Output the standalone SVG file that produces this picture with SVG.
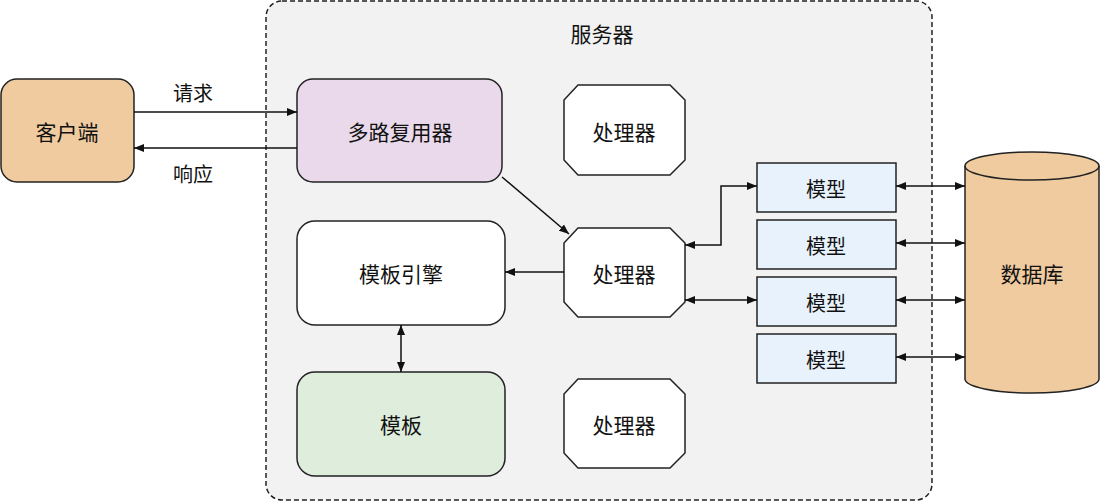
<svg xmlns="http://www.w3.org/2000/svg" width="1101" height="503" viewBox="0 0 1101 503">
<defs>
<marker id="ah" viewBox="0 0 10 8" refX="10" refY="4" markerWidth="10" markerHeight="8" orient="auto-start-reverse" markerUnits="userSpaceOnUse">
<path d="M0,0 L10,4 L0,8 Z" fill="#111"/>
</marker>
<style>
.t{font-family:"Noto Sans CJK SC","Noto Sans",sans-serif;font-size:21px;fill:#111;text-anchor:middle;dominant-baseline:central}
.s{font-size:20px}
.n{stroke:#222;stroke-width:1.5}
.c{fill:none;stroke:#111;stroke-width:1.5}
</style>
</defs>
<g id="server">
<rect x="266" y="1" width="666" height="499" rx="16" fill="#f2f2f2" stroke="#222" stroke-width="1.5" stroke-dasharray="5 3"/>
<text class="t" x="602" y="33">服务器</text>
</g>
<g id="client">
<rect class="n" x="1" y="79" width="133" height="103" rx="16" fill="#f0cba0"/>
<text class="t" x="67" y="131">客户端</text>
</g>
<g id="mux">
<rect class="n" x="297" y="79" width="205" height="103" rx="16" fill="#e9d9eb"/>
<text class="t" x="400" y="131">多路复用器</text>
</g>
<g id="proc1">
<polygon class="n" points="578,85 670,85 685,100 685,160 670,175 578,175 564,160 564,100" fill="#fff"/>
<text class="t" x="624" y="131">处理器</text>
</g>
<g id="proc2">
<polygon class="n" points="578,228 670,228 685,243 685,302 670,317 578,317 564,302 564,243" fill="#fff"/>
<text class="t" x="624" y="273">处理器</text>
</g>
<g id="proc3">
<polygon class="n" points="578,379 670,379 685,394 685,453 670,468 578,468 564,453 564,394" fill="#fff"/>
<text class="t" x="624" y="424">处理器</text>
</g>
<g id="engine">
<rect class="n" x="297" y="221" width="208" height="104" rx="18" fill="#fff"/>
<text class="t" x="401" y="273">模板引擎</text>
</g>
<g id="template">
<rect class="n" x="297" y="372" width="208" height="104" rx="18" fill="#dfeedc"/>
<text class="t" x="401" y="424">模板</text>
</g>
<g id="model1">
<rect class="n" x="757" y="163" width="139" height="49" fill="#e8f2fc"/>
<text class="t s" x="826" y="188">模型</text>
</g>
<g id="model2">
<rect class="n" x="757" y="220" width="139" height="49" fill="#e8f2fc"/>
<text class="t s" x="826" y="245">模型</text>
</g>
<g id="model3">
<rect class="n" x="757" y="277" width="139" height="49" fill="#e8f2fc"/>
<text class="t s" x="826" y="302">模型</text>
</g>
<g id="model4">
<rect class="n" x="757" y="334" width="139" height="49" fill="#e8f2fc"/>
<text class="t s" x="826" y="359">模型</text>
</g>
<g id="database">
<path class="n" d="M965,166 A67,14 0 0 1 1099,166 L1099,379 A67,14 0 0 1 965,379 Z" fill="#f0cba0"/>
<path class="n" d="M965,166 A67,14 0 0 0 1099,166" fill="none"/>
<text class="t" x="1032" y="273">数据库</text>
</g>
<g id="connectors">
<line class="c" x1="134" y1="112" x2="297" y2="112" marker-end="url(#ah)"/>
<text class="t s" x="193" y="92">请求</text>
<line class="c" x1="297" y1="148" x2="134" y2="148" marker-end="url(#ah)"/>
<text class="t s" x="193" y="173">响应</text>
<line class="c" x1="502" y1="177" x2="569" y2="234" marker-end="url(#ah)"/>
<line class="c" x1="564" y1="272" x2="505" y2="272" marker-end="url(#ah)"/>
<line class="c" x1="401" y1="325" x2="401" y2="372" marker-start="url(#ah)" marker-end="url(#ah)"/>
<polyline class="c" points="685,245 721,245 721,186 757,186" marker-start="url(#ah)" marker-end="url(#ah)"/>
<line class="c" x1="685" y1="300" x2="757" y2="300" marker-start="url(#ah)" marker-end="url(#ah)"/>
<line class="c" x1="896" y1="186" x2="965" y2="186" marker-start="url(#ah)" marker-end="url(#ah)"/>
<line class="c" x1="896" y1="243" x2="965" y2="243" marker-start="url(#ah)" marker-end="url(#ah)"/>
<line class="c" x1="896" y1="300" x2="965" y2="300" marker-start="url(#ah)" marker-end="url(#ah)"/>
<line class="c" x1="896" y1="357" x2="965" y2="357" marker-start="url(#ah)" marker-end="url(#ah)"/>
</g>
</svg>
